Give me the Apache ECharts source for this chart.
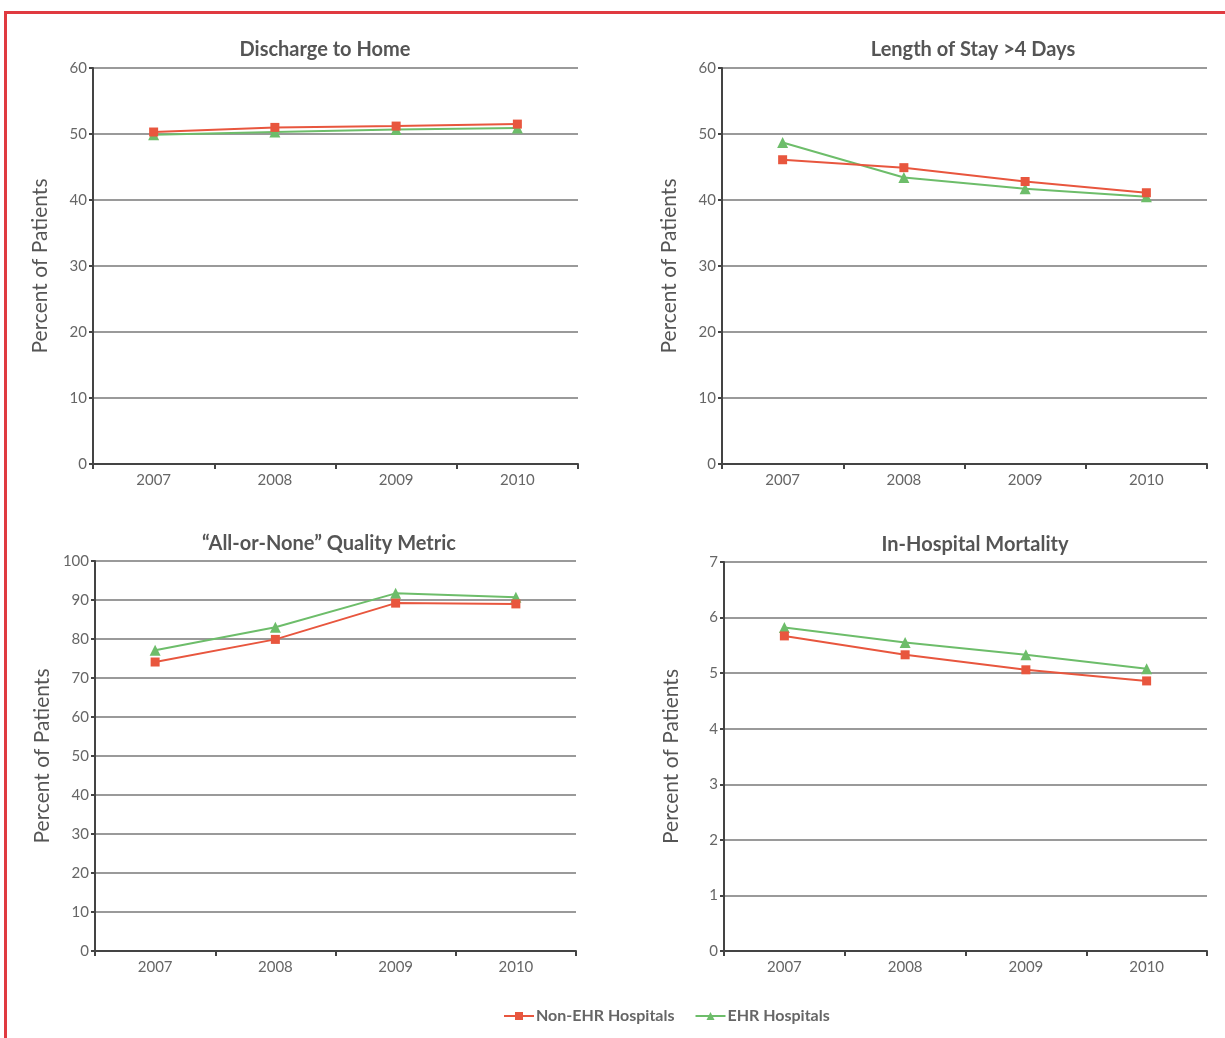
<!DOCTYPE html>
<html>
<head>
<meta charset="utf-8">
<script src="https://cdn.jsdelivr.net/npm/echarts@6/dist/echarts.min.js"></script>
<style>
  html, body { margin: 0; padding: 0; background: #fff; }
  #frame { position: absolute; left: 0; top: 0; width: 1225px; height: 1038px; }
  #border { position: absolute; left: 4px; top: 11px; right: 0; bottom: 0; border-top: 3px solid #e03a40; border-left: 3px solid #e03a40; pointer-events: none; }
  #chart { position: absolute; left: 0; top: 0; width: 1225px; height: 1038px; }
</style>
</head>
<body>
<div id="frame">
  <div id="chart"></div>
  <div id="border"></div>
</div>
<script>
const years = ['2007', '2008', '2009', '2010'];
const seriesNames = ['Non-EHR Hospitals', 'EHR Hospitals'];
const panelTitles = ['Discharge to Home', 'Length of Stay >4 Days', '\u201cAll-or-None\u201d Quality Metric', 'In-Hospital Mortality'];
const yAxisName = 'Percent of Patients';

// Discharge to Home
const dischargeNonEHR = [50.3, 51.0, 51.2, 51.5];
const dischargeEHR = [49.9, 50.3, 50.7, 50.9];
// Length of Stay >4 Days
const losNonEHR = [46.1, 44.9, 42.8, 41.1];
const losEHR = [48.7, 43.4, 41.7, 40.5];
// All-or-None Quality Metric
const qualityNonEHR = [74.1, 79.9, 89.2, 89.0];
const qualityEHR = [77.1, 83.0, 91.7, 90.7];
// In-Hospital Mortality
const mortalityNonEHR = [5.67, 5.33, 5.06, 4.86];
const mortalityEHR = [5.82, 5.55, 5.33, 5.08];

// Y-axis ranges per panel
const yMax = [60, 60, 100, 7];
const yInterval = [10, 10, 10, 1];

const red = '#e8563e';
const green = '#6dbd6a';
const fontFamily = 'Lato, "Open Sans", sans-serif';

const grids = [
  { left: 93, top: 68, width: 485, height: 396 },
  { left: 722, top: 68, width: 485, height: 396 },
  { left: 95, top: 561, width: 481, height: 390 },
  { left: 724, top: 562, width: 483, height: 389 }
];
const titlePos = [
  { left: 320, top: 35 },
  { left: 968, top: 35 },
  { left: 324, top: 529 },
  { left: 970, top: 530 }
];

const pairs = [
  [dischargeNonEHR, dischargeEHR],
  [losNonEHR, losEHR],
  [qualityNonEHR, qualityEHR],
  [mortalityNonEHR, mortalityEHR]
];

const option = {
  backgroundColor: '#fff',
  animation: false,
  textStyle: { fontFamily: fontFamily },
  title: panelTitles.map((t, i) => ({
    text: t,
    left: titlePos[i].left,
    top: titlePos[i].top,
    textAlign: 'center',
    textStyle: { fontFamily: fontFamily, fontSize: 20, fontWeight: 'bold', color: '#555' }
  })),
  legend: {
    top: 1003,
    left: 498,
    itemWidth: 30,
    itemHeight: 10,
    itemGap: 20,
    data: seriesNames,
    textStyle: { fontFamily: fontFamily, fontSize: 16, fontWeight: 'bold', color: '#666', padding: [0, 0, 0, -3] }
  },
  grid: grids.map(g => Object.assign({ containLabel: false }, g)),
  xAxis: grids.map((g, i) => ({
    type: 'category',
    gridIndex: i,
    data: years,
    boundaryGap: true,
    axisLine: { lineStyle: { color: '#444', width: 2 } },
    axisTick: { show: true, length: 5, lineStyle: { color: '#444', width: 2 } },
    axisLabel: { fontFamily: fontFamily, fontSize: 15, color: '#666', margin: 9 },
    splitLine: { show: false }
  })),
  yAxis: grids.map((g, i) => ({
    type: 'value',
    gridIndex: i,
    min: 0,
    max: yMax[i],
    interval: yInterval[i],
    name: yAxisName,
    nameLocation: 'middle',
    nameGap: 42,
    nameTextStyle: { fontFamily: fontFamily, fontSize: 21, color: '#555' },
    axisLine: { show: true, lineStyle: { color: '#444', width: 2 } },
    axisTick: { show: true, length: 4, lineStyle: { color: '#444', width: 2 } },
    axisLabel: { fontFamily: fontFamily, fontSize: 15, color: '#666', margin: 6 },
    splitLine: { show: true, lineStyle: { color: '#9a9a9a', width: 2 } }
  })),
  series: []
};

pairs.forEach((p, i) => {
  option.series.push({
    name: seriesNames[0],
    type: 'line',
    xAxisIndex: i,
    yAxisIndex: i,
    data: p[0],
    symbol: 'rect',
    symbolSize: 9,
    lineStyle: { color: red, width: 2 },
    itemStyle: { color: red },
    z: 3
  });
  option.series.push({
    name: seriesNames[1],
    type: 'line',
    xAxisIndex: i,
    yAxisIndex: i,
    data: p[1],
    symbol: 'triangle',
    symbolSize: 11,
    lineStyle: { color: green, width: 2 },
    itemStyle: { color: green },
    z: 2
  });
});

const chart = echarts.init(document.getElementById('chart'), null, { renderer: 'canvas' });
chart.setOption(option);
</script>
</body>
</html>
